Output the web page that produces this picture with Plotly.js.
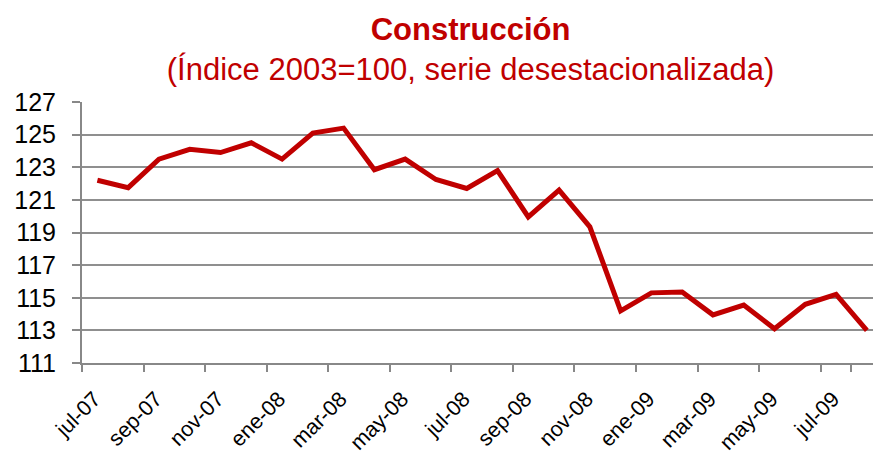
<!DOCTYPE html>
<html>
<head>
<meta charset="utf-8">
<script src="https://cdn.plot.ly/plotly-3.0.1.min.js"></script>
<style>html,body{margin:0;padding:0;background:#fff;}#chart{width:873px;height:455px;}</style>
</head>
<body>
<div id="chart"></div>
<script>
const months = ['jul-07','ago-07','sep-07','oct-07','nov-07','dic-07','ene-08','feb-08','mar-08','abr-08','may-08','jun-08','jul-08','ago-08','sep-08','oct-08','nov-08','dic-08','ene-09','feb-09','mar-09','abr-09','may-09','jun-09','jul-09','ago-09'];
const indice = [122.2,121.75,123.5,124.1,123.9,124.5,123.5,125.1,125.4,122.85,123.5,122.25,121.7,122.8,119.95,121.6,119.35,114.2,115.3,115.35,113.95,114.55,113.1,114.6,115.2,113.0];
const tickLabels = months.filter((m, i) => i % 2 === 0);
const yTicks = [111,113,115,117,119,121,123,125,127];

const trace = {
  x: months, y: indice, type: 'scatter', mode: 'lines',
  line: {color: '#C00000', width: 5}, hoverinfo: 'skip'
};
const layout = {
  width: 873, height: 455,
  margin: {l: 82, r: 0, t: 102, b: 92},
  paper_bgcolor: '#ffffff', plot_bgcolor: '#ffffff',
  showlegend: false,
  font: {family: '"Liberation Sans", Arial, sans-serif', color: '#000'},
  title: {
    text: '<b>Construcción</b><br>(Índice 2003=100, serie desestacionalizada)',
    font: {family: '"Liberation Sans", Arial, sans-serif', size: 31, color: '#C00000'},
    x: 0.539, xref: 'container', xanchor: 'center',
    y: 0.912, yref: 'container', yanchor: 'top'
  },
  xaxis: {
    type: 'category', categoryorder: 'array', categoryarray: months,
    range: [-0.5, 25.2],
    tickmode: 'array', tickvals: tickLabels, ticktext: tickLabels,
    tickson: 'boundaries',
    ticks: 'outside', ticklen: 7, tickwidth: 2, tickcolor: '#888888',
    tickangle: -45, tickfont: {size: 21.5, color: '#000'},
    ticklabelstandoff: 13, ticklabelshift: -3,
    showgrid: false, showline: true, linecolor: '#888888', linewidth: 2,
    zeroline: false, fixedrange: true
  },
  yaxis: {
    range: [111, 127], tickmode: 'array', tickvals: yTicks,
    ticks: 'outside', ticklen: 8, tickwidth: 2, tickcolor: '#888888',
    tickfont: {size: 25, color: '#000'}, ticklabelstandoff: 11,
    showgrid: true, gridcolor: '#8f8f8f', gridwidth: 2,
    showline: true, linecolor: '#888888', linewidth: 2,
    zeroline: false, fixedrange: true
  }
};
Plotly.newPlot('chart', [trace], layout, {displayModeBar: false, staticPlot: true});
</script>
</body>
</html>
